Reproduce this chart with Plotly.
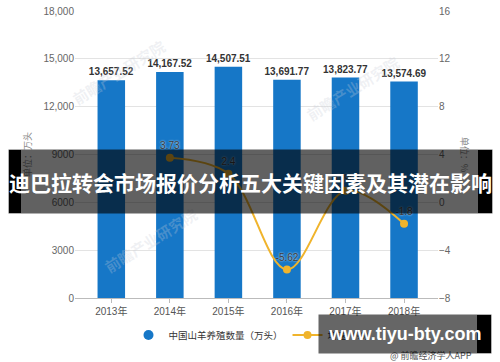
import plotly.graph_objects as go

# ---- data ----
years = ["2013年", "2014年", "2015年", "2016年", "2017年", "2018年"]
goats = [13657.52, 14167.52, 14507.51, 13691.77, 13823.77, 13574.69]
growth = [None, 3.73, 2.4, -5.62, 0.96, -1.8]
left_ticks = [0, 3000, 6000, 9000, 12000, 15000, 18000]
left_ticktext = ["0", "3000", "6000", "9000", "12,000", "15,000", "18,000"]
right_ticks = [-8, -4, 0, 4, 8, 12, 16]
bar_name = "中国山羊养殖数量（万头）"
line_name = "增速（%）"
banner_title = "迪巴拉转会市场报价分析五大关键因素及其潜在影响"
site = "www.tiyu-bty.com"
credit = "@ 前瞻经济学人APP"
watermark = "前瞻产业研究院"

# ---- geometry helpers (pixel -> paper) ----
W, H = 500, 362
ML, MR, MT, MB = 75, 62, 11, 64
PW, PH = W - ML - MR, H - MT - MB


def px(x):
    return (x - ML) / PW


def py(y):
    return (H - MB - y) / PH


BLUE = "#1677c7"
GOLD = "#f0b42c"
FONT = "Liberation Sans, Noto Sans CJK SC, sans-serif"
CJK = "Noto Sans CJK SC, sans-serif"

fig = go.Figure()

fig.add_trace(go.Bar(
    x=years, y=goats, name=bar_name, showlegend=False,
    marker=dict(color=BLUE, line=dict(width=0)), width=0.47,
    text=[f"{v:,.2f}" for v in goats], textposition="outside", constraintext="none",
    textfont=dict(size=10, color="#333333", family=FONT, weight="bold"),
    cliponaxis=False,
))
# legend proxy for the bar series (round marker as in the original)
fig.add_trace(go.Scatter(
    x=[None], y=[None], mode="markers", name=bar_name,
    marker=dict(color=BLUE, size=10, symbol="circle"),
))
fig.add_trace(go.Scatter(
    x=years, y=growth, name=line_name, yaxis="y2",
    mode="lines+markers+text", line=dict(color=GOLD, width=2, shape="spline", smoothing=1),
    marker=dict(color=GOLD, size=8),
    text=["" if v is None else f"{v:g}" for v in growth], textposition="top center",
    textfont=dict(size=10, color="#3a3a3a", family=FONT, shadow="0px 0px 2px white"),
    cliponaxis=False,
))


def ann(x, y, text, **kw):
    d = dict(x=px(x), y=py(y), xref="paper", yref="paper", text=text, showarrow=False,
             xanchor="center", yanchor="middle")
    d.update(kw)
    return d


annotations = []
# faint watermarks
for (wx, wy) in [(118, 72), (352, 88), (150, 240)]:
    annotations.append(ann(wx, wy, watermark, textangle=-32,
                           font=dict(size=15, color="rgba(200,205,215,0.28)", family=CJK, weight="bold")))
# axis titles
annotations.append(ann(27, 155, "单位：万头", textangle=-90, font=dict(size=9, color="#888888", family=CJK)))
annotations.append(ann(465, 154, "单位：%", textangle=90, font=dict(size=9, color="#888888", family=CJK)))
# credit
annotations.append(ann(431, 355, credit, font=dict(size=9, color="#555555", family=CJK)))
# banner overlay (semi-transparent; black end strips are shapes underneath)
annotations.append(ann(250.5, 181.5, banner_title, width=483, height=63, borderpad=0,
                       bgcolor="rgba(0,0,0,0.62)",
                       font=dict(size=21, color="white", family=CJK, weight="bold")))
# site box overlay
annotations.append(ann(405, 334, site, width=172, height=38, borderpad=0,
                       bgcolor="rgba(0,0,0,0.6)",
                       font=dict(size=18, color="white", family=FONT, weight="bold")))

shapes = [
    dict(type="rect", xref="paper", yref="paper", x0=px(9), x1=px(21), y0=py(213), y1=py(150),
         fillcolor="black", line=dict(width=0), layer="above"),
    dict(type="rect", xref="paper", yref="paper", x0=px(478), x1=px(492), y0=py(213), y1=py(150),
         fillcolor="black", line=dict(width=0), layer="above"),
    dict(type="rect", xref="paper", yref="paper", x0=px(477), x1=px(491), y0=py(353), y1=py(315),
         fillcolor="black", line=dict(width=0), layer="above"),
]

fig.update_layout(
    width=W, height=H,
    margin=dict(l=ML, r=MR, t=MT, b=MB, autoexpand=False),
    paper_bgcolor="white", plot_bgcolor="white",
    font=dict(family=FONT, size=10, color="#555555"),
    xaxis=dict(type="category", range=[-0.62, 5.58], showgrid=False,
               showline=True, linecolor="#bbbbbb", linewidth=1,
               ticks="outside", ticklen=4, tickcolor="#bbbbbb",
               tickfont=dict(size=10, color="#555555", family=FONT)),
    yaxis=dict(range=[0, 18000], tickvals=left_ticks, ticktext=left_ticktext,
               showgrid=True, gridcolor="#e3e3e3", zeroline=False, showline=False,
               tickfont=dict(size=10, color="#666666", family=FONT)),
    yaxis2=dict(range=[-8, 16], tickvals=right_ticks, overlaying="y", side="right",
                showgrid=False, zeroline=False, showline=False,
                tickfont=dict(size=10, color="#666666", family=FONT)),
    legend=dict(orientation="h", x=px(254), xanchor="center", y=py(335), yanchor="middle",
                font=dict(size=9.5, color="#333333", family=CJK), itemwidth=30,
                bgcolor="rgba(0,0,0,0)"),
    annotations=annotations,
    shapes=shapes,
    bargap=0.5,
)

fig.write_html(
    "out.html",
    config={"displayModeBar": False},
    post_script="document.body.style.margin='0';document.body.style.padding='0';",
)
